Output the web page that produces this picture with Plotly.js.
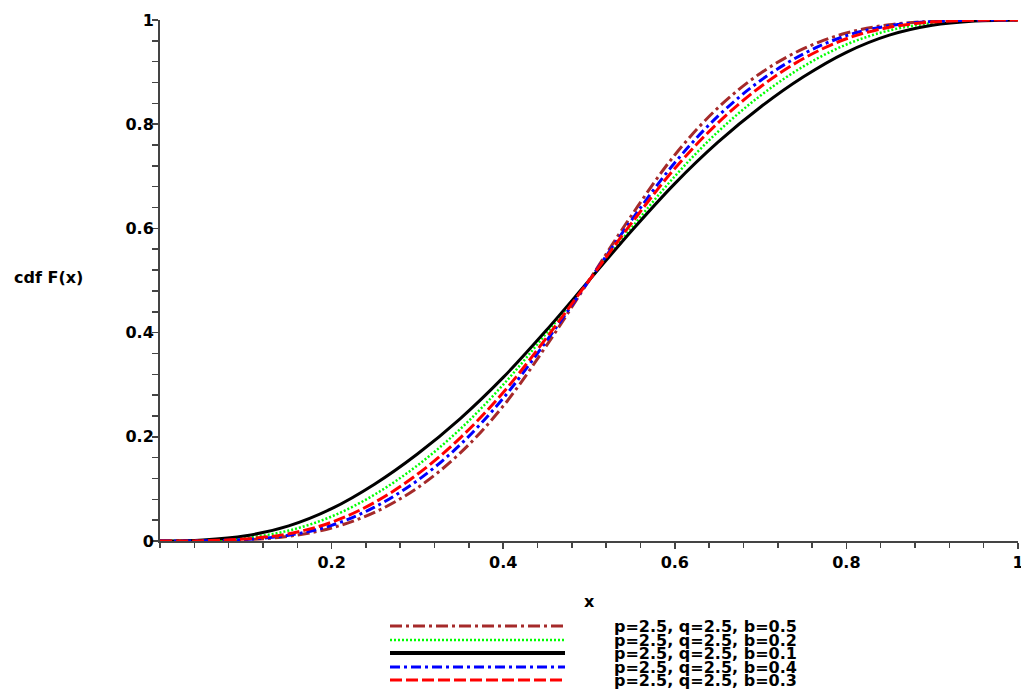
<!DOCTYPE html>
<html><head><meta charset="utf-8">
<script src="https://cdn.plot.ly/plotly-3.0.1.min.js"></script>
<style>html,body{margin:0;padding:0;background:#fff;}</style>
</head><body>
<div id="chart" style="width:1021px;height:690px;"></div>
<script>
// ---- data ----
const xValues = [0, 0.05, 0.1, 0.15, 0.2, 0.25, 0.3, 0.35, 0.4, 0.45, 0.5, 0.55, 0.6, 0.65, 0.7, 0.75, 0.8, 0.85, 0.9, 0.95, 1];
const cdfB05 = [0, 0.0003, 0.0025, 0.009, 0.025, 0.055, 0.102, 0.169, 0.259, 0.374, 0.5, 0.626, 0.741, 0.831, 0.898, 0.945, 0.975, 0.991, 0.9975, 0.9997, 1];
const cdfB02 = [0, 0.001, 0.006, 0.020, 0.047, 0.089, 0.145, 0.215, 0.300, 0.398, 0.5, 0.602, 0.700, 0.785, 0.855, 0.911, 0.953, 0.980, 0.994, 0.999, 1];
const cdfB01 = [0, 0.002, 0.010, 0.029, 0.062, 0.109, 0.167, 0.235, 0.314, 0.404, 0.5, 0.596, 0.686, 0.765, 0.833, 0.891, 0.938, 0.971, 0.990, 0.998, 1];
const cdfB04 = [0, 0.0004, 0.003, 0.011, 0.030, 0.065, 0.116, 0.185, 0.274, 0.383, 0.5, 0.617, 0.726, 0.815, 0.884, 0.935, 0.970, 0.989, 0.997, 0.9996, 1];
const cdfB03 = [0, 0.0005, 0.004, 0.014, 0.036, 0.074, 0.128, 0.198, 0.285, 0.389, 0.5, 0.611, 0.715, 0.802, 0.872, 0.926, 0.964, 0.986, 0.996, 0.9995, 1];
const pValues = [2.5, 2.5, 2.5, 2.5, 2.5];
const qValues = [2.5, 2.5, 2.5, 2.5, 2.5];
const bValues = [0.5, 0.2, 0.1, 0.4, 0.3];
const xTickVals = [0.2, 0.4, 0.6, 0.8, 1];
const xTickText = ['0.2', '0.4', '0.6', '0.8', '1'];
const yTickVals = [0, 0.2, 0.4, 0.6, 0.8, 1];
const yTickText = ['0', '0.2', '0.4', '0.6', '0.8', '1'];
const xTitle = 'x';
const yTitle = 'cdf F(x)';

// ---- styles ----
const series = [cdfB05, cdfB02, cdfB01, cdfB04, cdfB03];
const colors = ['#A52A2A', '#00FF00', '#000000', '#0000FF', '#FF0000'];
const widths = [3, 2.5, 3, 3, 3];
const dashes = ['12px,4px,3px,4px', '2px,2px', 'solid', '10px,4px,3px,4px', '12px,4px'];
const legendWidths = [3, 2.5, 4, 3, 3];
const legendRowsPx = [626, 640, 653, 667, 680];

const FONT = 'DejaVu Sans, Liberation Sans, Arial, sans-serif';
const L = 160, T = 20, PW = 858, PH = 521;

const labels = bValues.map((b, i) => `p=${pValues[i]}, q=${qValues[i]}, b=${b}`);

const traces = series.map((ys, i) => ({
  x: xValues, y: ys, type: 'scatter', mode: 'lines',
  name: labels[i], showlegend: false,
  line: {color: colors[i], width: widths[i], dash: dashes[i], shape: 'spline', smoothing: 1}
}));

const shapes = [];
const annotations = [];
legendRowsPx.forEach((py, i) => {
  const yp = (T + PH - py) / PH;
  shapes.push({type: 'line', xref: 'paper', yref: 'paper',
    x0: (390 - L) / PW, x1: (565 - L) / PW, y0: yp, y1: yp,
    line: {color: colors[i], width: legendWidths[i], dash: dashes[i]}});
  annotations.push({xref: 'paper', yref: 'paper', x: (612 - L) / PW, y: yp,
    xanchor: 'left', yanchor: 'middle', showarrow: false, text: labels[i],
    font: {family: FONT, size: 16, color: '#000', weight: 'bold'}});
});
annotations.push({xref: 'paper', yref: 'paper', x: (589 - L) / PW, y: (T + PH - 601) / PH,
  xanchor: 'center', yanchor: 'middle', showarrow: false, text: xTitle,
  font: {family: FONT, size: 16, color: '#000', weight: 'bold'}});
annotations.push({xref: 'paper', yref: 'paper', x: (12 - L) / PW, y: (T + PH - 277) / PH,
  xanchor: 'left', yanchor: 'middle', showarrow: false, text: yTitle,
  font: {family: FONT, size: 16, color: '#000', weight: 'bold'}});

const axisCommon = {
  showgrid: false, zeroline: false, showline: true, linecolor: '#444', linewidth: 2,
  ticks: 'outside', ticklen: 6, tickwidth: 1.5, tickcolor: '#444',
  tickfont: {family: FONT, size: 16, color: '#000', weight: 'bold'},
  ticklabeloverflow: 'allow',
  fixedrange: true
};

const layout = {
  width: 1021, height: 690,
  margin: {l: L, r: 1021 - L - PW, t: T, b: 690 - T - PH, pad: 0},
  paper_bgcolor: '#fff', plot_bgcolor: '#fff',
  showlegend: false,
  xaxis: Object.assign({}, axisCommon, {
    range: [0, 1], tickmode: 'array', tickvals: xTickVals, ticktext: xTickText,
    minor: {dtick: 0.04, tick0: 0, ticks: 'outside', ticklen: 5, tickcolor: '#444', tickwidth: 1.5, showgrid: false}
  }),
  yaxis: Object.assign({}, axisCommon, {
    range: [0, 1], tickmode: 'array', tickvals: yTickVals, ticktext: yTickText,
    ticklabelstandoff: -5,
    minor: {dtick: 0.04, tick0: 0, ticks: 'outside', ticklen: 6, tickcolor: '#444', tickwidth: 1.5, showgrid: false}
  }),
  shapes: shapes,
  annotations: annotations
};

Plotly.newPlot('chart', traces, layout, {staticPlot: true, displayModeBar: false});
</script>
</body></html>
